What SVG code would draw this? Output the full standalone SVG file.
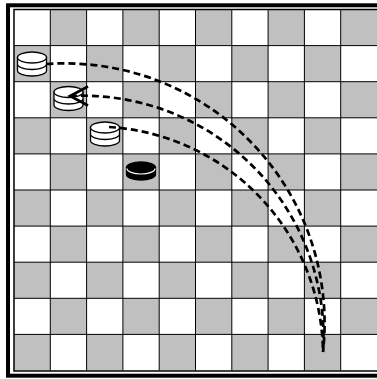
<svg xmlns="http://www.w3.org/2000/svg" width="377" height="379" viewBox="0 0 377 379">
<style>
.g{fill:#c0c0c0}
.gl{stroke:#000;stroke-width:1;fill:none}
.disc{fill:#fff;stroke:#000;stroke-width:1.3}
.bdisc{fill:#000;stroke:#000;stroke-width:1.3}
.hl{fill:none;stroke:#fff;stroke-width:1.2}
.con{fill:none;stroke:#000;stroke-width:2.7;stroke-dasharray:7 4}
.head{fill:none;stroke:#000;stroke-width:2.6}
</style>
<rect x="0" y="0" width="377" height="379" fill="#fff"/>
<g id="board">
<rect x="14" y="9.5" width="363" height="361" fill="#fff"/>
<rect class="g" x="50.3" y="9.5" width="36.3" height="36.1"/>
<rect class="g" x="122.9" y="9.5" width="36.3" height="36.1"/>
<rect class="g" x="195.5" y="9.5" width="36.3" height="36.1"/>
<rect class="g" x="268.1" y="9.5" width="36.3" height="36.1"/>
<rect class="g" x="340.7" y="9.5" width="36.3" height="36.1"/>
<rect class="g" x="14" y="45.6" width="36.3" height="36.1"/>
<rect class="g" x="86.6" y="45.6" width="36.3" height="36.1"/>
<rect class="g" x="159.2" y="45.6" width="36.3" height="36.1"/>
<rect class="g" x="231.8" y="45.6" width="36.3" height="36.1"/>
<rect class="g" x="304.4" y="45.6" width="36.3" height="36.1"/>
<rect class="g" x="50.3" y="81.7" width="36.3" height="36.1"/>
<rect class="g" x="122.9" y="81.7" width="36.3" height="36.1"/>
<rect class="g" x="195.5" y="81.7" width="36.3" height="36.1"/>
<rect class="g" x="268.1" y="81.7" width="36.3" height="36.1"/>
<rect class="g" x="340.7" y="81.7" width="36.3" height="36.1"/>
<rect class="g" x="14" y="117.8" width="36.3" height="36.1"/>
<rect class="g" x="86.6" y="117.8" width="36.3" height="36.1"/>
<rect class="g" x="159.2" y="117.8" width="36.3" height="36.1"/>
<rect class="g" x="231.8" y="117.8" width="36.3" height="36.1"/>
<rect class="g" x="304.4" y="117.8" width="36.3" height="36.1"/>
<rect class="g" x="50.3" y="153.9" width="36.3" height="36.1"/>
<rect class="g" x="122.9" y="153.9" width="36.3" height="36.1"/>
<rect class="g" x="195.5" y="153.9" width="36.3" height="36.1"/>
<rect class="g" x="268.1" y="153.9" width="36.3" height="36.1"/>
<rect class="g" x="340.7" y="153.9" width="36.3" height="36.1"/>
<rect class="g" x="14" y="190" width="36.3" height="36.1"/>
<rect class="g" x="86.6" y="190" width="36.3" height="36.1"/>
<rect class="g" x="159.2" y="190" width="36.3" height="36.1"/>
<rect class="g" x="231.8" y="190" width="36.3" height="36.1"/>
<rect class="g" x="304.4" y="190" width="36.3" height="36.1"/>
<rect class="g" x="50.3" y="226.1" width="36.3" height="36.1"/>
<rect class="g" x="122.9" y="226.1" width="36.3" height="36.1"/>
<rect class="g" x="195.5" y="226.1" width="36.3" height="36.1"/>
<rect class="g" x="268.1" y="226.1" width="36.3" height="36.1"/>
<rect class="g" x="340.7" y="226.1" width="36.3" height="36.1"/>
<rect class="g" x="14" y="262.2" width="36.3" height="36.1"/>
<rect class="g" x="86.6" y="262.2" width="36.3" height="36.1"/>
<rect class="g" x="159.2" y="262.2" width="36.3" height="36.1"/>
<rect class="g" x="231.8" y="262.2" width="36.3" height="36.1"/>
<rect class="g" x="304.4" y="262.2" width="36.3" height="36.1"/>
<rect class="g" x="50.3" y="298.3" width="36.3" height="36.1"/>
<rect class="g" x="122.9" y="298.3" width="36.3" height="36.1"/>
<rect class="g" x="195.5" y="298.3" width="36.3" height="36.1"/>
<rect class="g" x="268.1" y="298.3" width="36.3" height="36.1"/>
<rect class="g" x="340.7" y="298.3" width="36.3" height="36.1"/>
<rect class="g" x="14" y="334.4" width="36.3" height="36.1"/>
<rect class="g" x="86.6" y="334.4" width="36.3" height="36.1"/>
<rect class="g" x="159.2" y="334.4" width="36.3" height="36.1"/>
<rect class="g" x="231.8" y="334.4" width="36.3" height="36.1"/>
<rect class="g" x="304.4" y="334.4" width="36.3" height="36.1"/>
<path class="gl" d="M50.3 9.5V370.5M86.6 9.5V370.5M122.9 9.5V370.5M159.2 9.5V370.5M195.5 9.5V370.5M231.8 9.5V370.5M268.1 9.5V370.5M304.4 9.5V370.5M340.7 9.5V370.5M14 45.6H377M14 81.7H377M14 117.8H377M14 153.9H377M14 190H377M14 226.1H377M14 262.2H377M14 298.3H377M14 334.4H377"/>
<rect x="14" y="9.5" width="380" height="361.5" fill="none" stroke="#000" stroke-width="1.5"/>
<rect x="8" y="5.3" width="390" height="370.4" fill="none" stroke="#000" stroke-width="4"/>
</g>
<g id="w1">
<path class="disc" d="M17.5 57.5V70.5A14.5 5.5 0 0 0 46.5 70.5V57.5Z"/>
<path class="disc" d="M17.5 64A14.5 5.5 0 0 0 46.5 64"/>
<ellipse class="disc" cx="32" cy="57.5" rx="14.5" ry="5.5"/>
</g>
<g id="w2">
<path class="disc" d="M54 92V105A14.5 5.5 0 0 0 83 105V92Z"/>
<path class="disc" d="M54 98.5A14.5 5.5 0 0 0 83 98.5"/>
<ellipse class="disc" cx="68.5" cy="92" rx="14.5" ry="5.5"/>
</g>
<g id="w3">
<path class="disc" d="M90.5 127.5V140.5A14.5 5.5 0 0 0 119.5 140.5V127.5Z"/>
<path class="disc" d="M90.5 134A14.5 5.5 0 0 0 119.5 134"/>
<ellipse class="disc" cx="105" cy="127.5" rx="14.5" ry="5.5"/>
</g>
<g id="b1">
<path class="bdisc" d="M126.5 167.5V174.5A14.5 5.5 0 0 0 155.5 174.5V167.5Z"/>
<ellipse class="bdisc" cx="141" cy="167.5" rx="14.5" ry="5.5"/>
<path class="hl" d="M127 168.5A14 5.5 0 0 0 155 168.5"/>
</g>
<g id="connectors">
<path class="con" d="M46.5 64A260 260 0 0 1 323 352"/>
<path class="con" d="M70 96A241 241 0 0 1 323 352"/>
<path class="head" d="M88 86.5L70 96L88 105.5"/>
<path class="con" d="M109 127A228 228 0 0 1 323 352"/>
</g>
</svg>
